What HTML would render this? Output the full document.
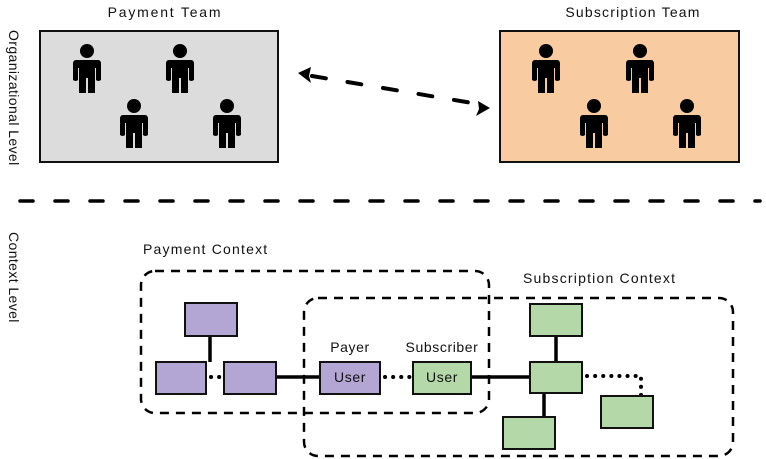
<!DOCTYPE html>
<html><head><meta charset="utf-8"><style>
html,body{margin:0;padding:0;background:#fff;}
svg{display:block;}
text{font-family:"Liberation Sans",sans-serif;font-size:14px;fill:#111;letter-spacing:0.6px;}
</style></head><body>
<svg width="766" height="459" viewBox="0 0 766 459" xmlns="http://www.w3.org/2000/svg">
<defs>
<g id="p">
<circle cx="0" cy="-19" r="7" fill="#000"/>
<path d="M-11,-10 Q-14,-10 -14,-6 L-14,10 Q-11,12 -9,10 L-9,-2 L-8,-2 L-8,23 L-1,23 L-1,8 L1,8 L1,23 L8,23 L8,-2 L9,-2 L9,10 Q11,12 14,10 L14,-6 Q14,-10 11,-10 Z" fill="#000"/>
</g>
</defs>
<text x="165" y="17" text-anchor="middle" style="letter-spacing:1.8px">Payment Team</text>
<text x="633" y="17" text-anchor="middle" style="letter-spacing:1.2px">Subscription Team</text>
<rect x="40" y="31" width="238" height="131" fill="#dcdcdc" stroke="#111" stroke-width="2"/>
<rect x="500" y="31" width="239" height="131" fill="#f8cba0" stroke="#111" stroke-width="2"/>
<use href="#p" x="87" y="70"/><use href="#p" x="180" y="70"/><use href="#p" x="134" y="125"/><use href="#p" x="227" y="125"/>
<use href="#p" x="546" y="70"/><use href="#p" x="640" y="70"/><use href="#p" x="594" y="125"/><use href="#p" x="687" y="125"/>
<line x1="312" y1="76" x2="478" y2="104" stroke="#000" stroke-width="4" stroke-dasharray="14,22" stroke-linecap="round"/>
<path d="M298,73 L311,67 L309,76 L311,83 Z" fill="#000"/>
<path d="M490,108 L478,101 L479,109 L476,116 Z" fill="#000"/>
<line x1="20" y1="201" x2="760" y2="201" stroke="#000" stroke-width="3.5" stroke-dasharray="13,22" stroke-linecap="round"/>
<text transform="translate(9,30) rotate(90)" style="letter-spacing:0.4px">Organizational Level</text>
<text transform="translate(9,232) rotate(90)" style="letter-spacing:0.4px">Context Level</text>
<text x="143" y="254" style="letter-spacing:1.2px">Payment Context</text>
<text x="523" y="283" style="letter-spacing:1.2px">Subscription Context</text>
<rect x="141" y="271" width="348" height="142" rx="14" fill="none" stroke="#000" stroke-width="2.5" stroke-dasharray="9,7"/>
<rect x="304" y="298" width="429" height="158" rx="14" fill="none" stroke="#000" stroke-width="2.5" stroke-dasharray="9,7"/>
<g stroke="#000" stroke-width="3.5">
<line x1="210" y1="336" x2="210" y2="362"/>
<line x1="276" y1="377" x2="320" y2="377"/>
<line x1="471" y1="377" x2="530" y2="377"/>
<line x1="556" y1="336" x2="556" y2="362"/>
<line x1="544" y1="393" x2="544" y2="417"/>
</g>
<g stroke="#000" stroke-width="4" stroke-dasharray="0.1,8" stroke-linecap="round" fill="none">
<line x1="211" y1="377" x2="222" y2="377"/>
<line x1="385" y1="377" x2="412" y2="377"/>
<path d="M587,376 L641,376 L641,396"/>
</g>
<g stroke="#111" stroke-width="2">
<rect x="185" y="303" width="52" height="33" fill="#b3a6d4"/>
<rect x="156" y="362" width="50" height="32" fill="#b3a6d4"/>
<rect x="224" y="362" width="52" height="32" fill="#b3a6d4"/>
<rect x="320" y="362" width="60" height="32" fill="#b3a6d4"/>
<rect x="413" y="362" width="58" height="32" fill="#b5d8a8"/>
<rect x="530" y="304" width="52" height="32" fill="#b5d8a8"/>
<rect x="530" y="362" width="52" height="31" fill="#b5d8a8"/>
<rect x="601" y="396" width="52" height="32" fill="#b5d8a8"/>
<rect x="503" y="417" width="52" height="32" fill="#b5d8a8"/>
</g>
<text x="350" y="382" text-anchor="middle">User</text>
<text x="442" y="382" text-anchor="middle">User</text>
<text x="350" y="352" text-anchor="middle">Payer</text>
<text x="442" y="352" text-anchor="middle">Subscriber</text>
</svg>
</body></html>
